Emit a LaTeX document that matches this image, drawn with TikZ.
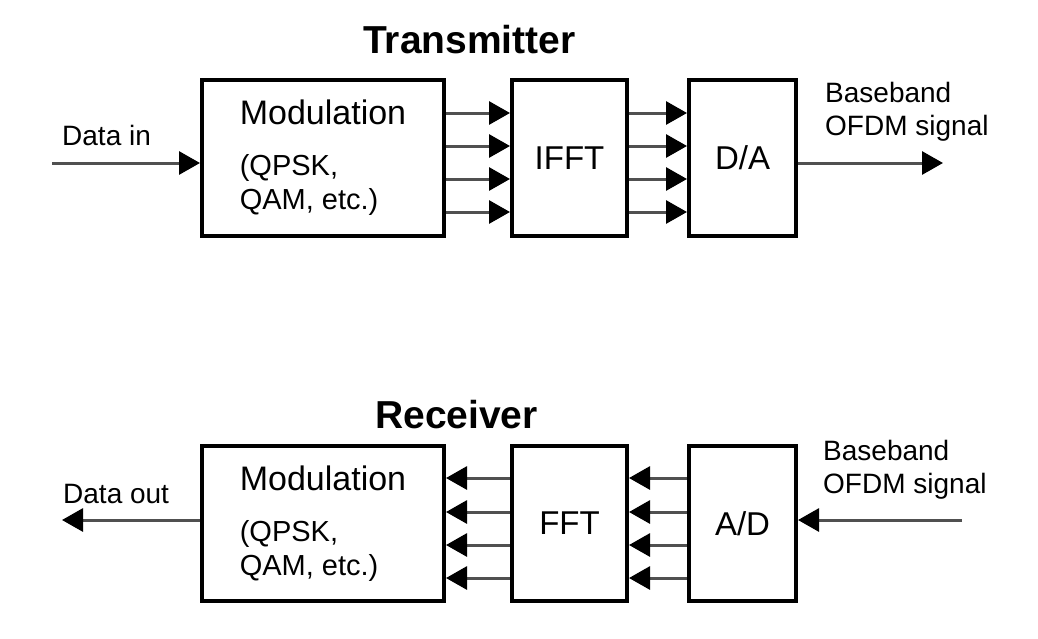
\documentclass[tikz,border=0pt]{standalone}
\usepackage{fontspec}
\setmainfont{Liberation Sans}
\usetikzlibrary{arrows.meta}
\definecolor{wire}{HTML}{505050}
\tikzset{
  blk/.style={draw=black, line width=4pt, fill=white, inner sep=0pt, align=left,
              font=\fontsize{33}{35}\selectfont},
  sig/.style={draw=wire, line width=3pt,
              -{Triangle[length=21pt,width=23pt,color=black,fill=black]}},
  lbl/.style={anchor=base west, inner sep=0pt, font=\fontsize{28}{33}\selectfont},
  ttl/.style={anchor=base west, inner sep=0pt, font=\fontsize{39}{40}\selectfont\bfseries},
}
\newcommand{\modtext}{{\fontsize{34}{35}\selectfont Modulation}\\[16pt]{\fontsize{29}{31}\selectfont (QPSK,}\\[-1pt]{\fontsize{29}{31}\selectfont QAM, etc.)}}
\begin{document}
\begin{tikzpicture}[x=1pt,y=-1pt]
\useasboundingbox (0,0) rectangle (1038,638);
% ---------- Transmitter ----------
\node[ttl] (ttx) at (363,53) {Transmitter};
\node[blk, minimum width=242pt, minimum height=156pt] (mod) at (323,158) {\modtext};
\node[blk, minimum width=115pt, minimum height=156pt] (ifft) at (569.5,158) {IFFT};
\node[blk, minimum width=107pt, minimum height=156pt] (da) at (742.5,158) {D/A};
\coordinate (din) at (52,163);
\coordinate (tout) at (943,163);
\node[lbl] (ldin) at (62,145) {Data in};
\node[lbl] (lbb1) at (825,102) {Baseband};
\node[lbl] (lof1) at (825,135) {OFDM signal};
\draw[sig] (din) -- (din -| mod.west);
\foreach \yy in {113,146,179,212}{
  \draw[sig] (mod.east |- 0,\yy) -- (ifft.west |- 0,\yy);
  \draw[sig] (ifft.east |- 0,\yy) -- (da.west |- 0,\yy);
}
\draw[sig] (tout -| da.east) -- (tout);
% ---------- Receiver ----------
\node[ttl] (trx) at (375,428) {Receiver};
\node[blk, minimum width=242pt, minimum height=155pt] (rmod) at (323,523.5) {\modtext};
\node[blk, minimum width=115pt, minimum height=155pt] (fft) at (569.5,523.5) {FFT};
\node[blk, minimum width=107pt, minimum height=155pt] (ad) at (742.5,523.5) {A/D};
\coordinate (rin) at (962,520);
\coordinate (dout) at (62,520);
\node[lbl] (ldout) at (63,503) {Data out};
\node[lbl] (lbb2) at (823,460) {Baseband};
\node[lbl] (lof2) at (823,493) {OFDM signal};
\draw[sig] (rin) -- (rin -| ad.east);
\foreach \yy in {478,512,545,578}{
  \draw[sig] (ad.west |- 0,\yy) -- (fft.east |- 0,\yy);
  \draw[sig] (fft.west |- 0,\yy) -- (rmod.east |- 0,\yy);
}
\draw[sig] (dout -| rmod.west) -- (dout);
\end{tikzpicture}
\end{document}
